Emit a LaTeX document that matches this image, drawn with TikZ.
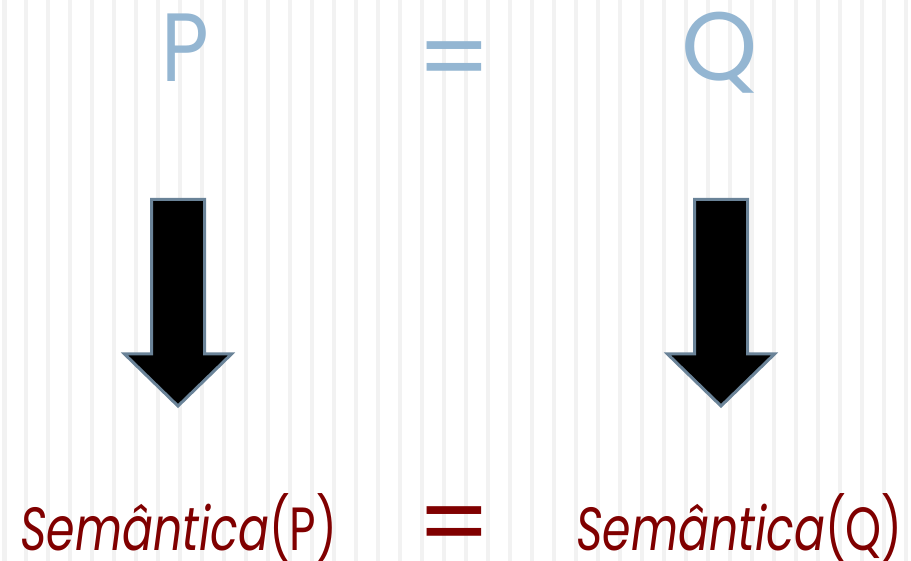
\documentclass[tikz,border=0pt]{standalone}
\usepackage{fontspec}
\setmainfont{Poppins}
\definecolor{stripe}{HTML}{F2F2F2}
\definecolor{topblue}{HTML}{94B6D2}
\definecolor{darkred}{HTML}{800000}
\definecolor{arrowedge}{HTML}{6A8398}
\tikzset{
  toplabel/.style={text=topblue, font=\fontsize{97}{97}\selectfont\addfontfeatures{Weight=300}, inner sep=0pt, anchor=base},
  eqsign/.style={font=\fontsize{92}{92}\selectfont\addfontfeatures{Weight=500}, inner sep=0pt, anchor=base},
  semlabel/.style={text=darkred, font=\fontsize{61}{61}\selectfont, inner sep=0pt, anchor=base west},
  blockarrow/.style={fill=black, draw=arrowedge, line width=3pt, miter limit=10},
}
\newcommand{\condensed}[1]{\scalebox{0.75}[1]{#1}}
\newcommand{\downarrowshape}[1]{%
  \filldraw[blockarrow] (#1-26.5,199.5) -- (#1+26.5,199.5) -- (#1+26.5,354) -- (#1+53.5,354)
    -- (#1,406) -- (#1-53.5,354) -- (#1-26.5,354) -- cycle;}
\begin{document}
\begin{tikzpicture}[x=1pt,y=-1pt]
  \useasboundingbox (0,0) rectangle (911,561);
  \fill[white] (0,0) rectangle (911,561);
  % vertical background stripes, 22pt apart
  \foreach \i in {0,...,41}{
    \pgfmathsetmacro{\sx}{2+21.99*\i}
    \fill[stripe] (\sx,0) rectangle ++(4.5,561);
  }
  % top line: P = Q
  \node[toplabel] (p) at (185.5,82) {\scalebox{0.85}[1]{P}};
  \node[eqsign, text=topblue] (eqtop) at (454,94) {\scalebox{1.14}[1.1]{=}};
  \node[toplabel] (q) at (720,81) {Q};
  % block arrows
  \downarrowshape{178}
  \downarrowshape{721}
  % bottom line
  \node[semlabel] (semp) at (20,550) {\condensed{\textit{Semântica}(P)}};
  \node[eqsign, text=darkred] (eqbot) at (454,558) {\scalebox{1.14}[1.1]{=}};
  \node[semlabel] (semq) at (576,550) {\condensed{\textit{Semântica}(Q)}};
\end{tikzpicture}
\end{document}
